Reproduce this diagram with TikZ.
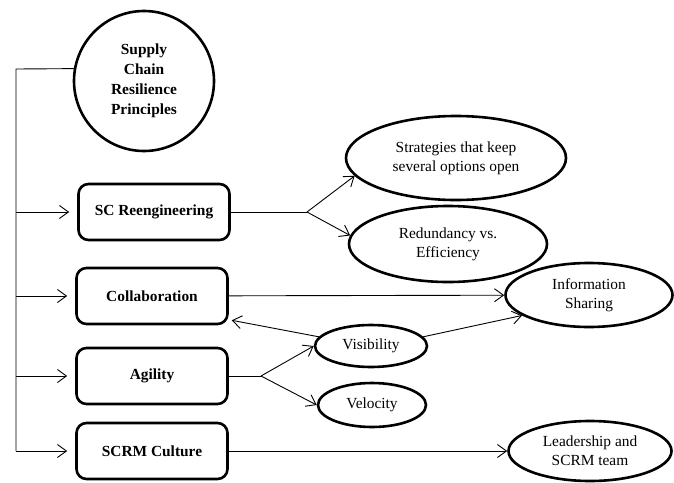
\documentclass[tikz,border=0pt]{standalone}
\usepackage{fontspec}
\setmainfont{Liberation Serif}
\usetikzlibrary{arrows.meta,shapes.geometric}

\begin{document}
\begin{tikzpicture}[x=1pt,y=-1pt,>={Straight Barb[length=9pt,width=13pt]},
  every node/.style={font=\fontsize{15.4}{19}\selectfont},
  link/.style={line width=0.9pt},
  pillar/.style={draw,line width=2.6pt,rounded corners=10pt,minimum width=151pt,minimum height=56pt,inner sep=0pt,font=\fontsize{15.4}{19}\selectfont\bfseries},
  idea/.style={draw,ellipse,line width=2.6pt,inner sep=0pt,align=center}]
\useasboundingbox (0,0) rectangle (674,482);
\node[draw,circle,line width=2.6pt,minimum size=140pt,inner sep=0pt,align=center,font=\fontsize{15.4}{20}\selectfont\bfseries] (scrp) at (144,81) {Supply\\Chain\\Resilience\\Principles};
\node[pillar] (reeng) at (154,212) {SC Reengineering};
\node[pillar] (collab) at (152,296) {Collaboration};
\node[pillar] (agil) at (152,376) {Agility};
\node[pillar] (culture) at (152,451) {SCRM Culture};
\node[idea,minimum width=220pt,minimum height=84pt] (options) at (456,158) {Strategies that keep\\several options open};
\node[idea,minimum width=198pt,minimum height=76pt] (redund) at (448,244) {Redundancy vs.\\Efficiency};
\node[idea,minimum width=167pt,minimum height=64pt] (infoshare) at (589,295) {Information\\Sharing};
\node[idea,minimum width=112pt,minimum height=42pt] (visib) at (371,346) {Visibility};
\node[idea,minimum width=108pt,minimum height=44pt] (veloc) at (372,405) {Velocity};
\node[idea,minimum width=163pt,minimum height=60pt] (leader) at (590,451) {Leadership and\\SCRM team};
\coordinate (spinetop) at (16,69);
\coordinate (spinebot) at (16,451);
\coordinate (fork1) at (307,212);
\coordinate (fork2) at (261,376);
% spine
\draw[link] (scrp.170) -- (spinetop) -- (spinebot);
\draw[link,->,shorten >=8pt] (spinetop |- reeng) -- (reeng);
\draw[link,->,shorten >=8pt] (spinetop |- collab) -- (collab);
\draw[link,->,shorten >=8pt] (spinetop |- agil) -- (agil);
\draw[link,->,shorten >=8pt] (spinebot) -- (culture);
% branches
\draw[link] (reeng) -- (fork1);
\draw[link,->] (fork1) -- (options.190);
\draw[link,->] (fork1) -- (redund.175);
\draw[link,->] (collab) -- (infoshare);
\draw[link,->] (visib.170) -- ([xshift=3pt,yshift=5pt]collab.south east);
\draw[link,->] (visib.10) -- (infoshare.197);
\draw[link] (agil) -- (fork2);
\draw[link,->] (fork2) -- (visib.west);
\draw[link,->] (fork2) -- (veloc.west);
\draw[link,->] (culture) -- (leader);
\end{tikzpicture}
\end{document}
